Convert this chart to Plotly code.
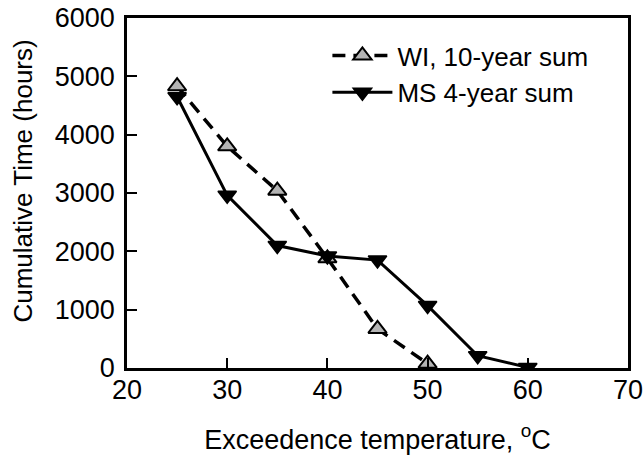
import plotly.graph_objects as go

wi_x = [25, 30, 35, 40, 45, 50]
wi_y = [4830, 3800, 3040, 1880, 670, 75]
ms_x = [25, 30, 35, 40, 45, 50, 55, 60]
ms_y = [4650, 2960, 2100, 1920, 1850, 1070, 210, 10]

x_ticks = [20, 30, 40, 50, 60, 70]
y_ticks = [0, 1000, 2000, 3000, 4000, 5000, 6000]

font_family = "Liberation Sans, Arial, sans-serif"

fig = go.Figure()
fig.add_trace(go.Scatter(
    x=wi_x, y=wi_y, name="WI, 10-year sum", mode="lines+markers",
    line=dict(color="black", width=3.5, dash="13px,8px"),
    marker=dict(symbol="triangle-up", size=16, color="#b4b4b4",
                line=dict(color="black", width=2)),
))
fig.add_trace(go.Scatter(
    x=ms_x, y=ms_y, name="MS 4-year sum", mode="lines+markers",
    line=dict(color="black", width=3),
    marker=dict(symbol="triangle-down", size=16, color="black",
                line=dict(color="black", width=1.5)),
))

fig.update_layout(
    width=643, height=463,
    margin=dict(l=127, r=15, t=18, b=95),
    paper_bgcolor="white", plot_bgcolor="white",
    font=dict(family=font_family, size=26, color="black"),
    showlegend=True,
    legend=dict(x=0.40, y=0.96, xanchor="left", yanchor="top",
                bgcolor="rgba(0,0,0,0)", font=dict(size=26),
                tracegroupgap=0, itemwidth=60),
    xaxis=dict(
        range=[20, 70], tickvals=x_ticks, ticktext=[str(v) for v in x_ticks],
        ticks="inside", ticklen=10, tickwidth=2, tickcolor="black",
        showline=True, linecolor="black", linewidth=2.5, mirror=True,
        showgrid=False, zeroline=False, automargin=False,
        tickfont=dict(size=27), ticklabeloverflow="allow",
        ticklabelstandoff=-4,
        title=dict(text="Exceedence temperature, <sup>o</sup>C", standoff=26,
                   font=dict(size=27)),
    ),
    yaxis=dict(
        range=[0, 6000], tickvals=y_ticks, ticktext=[str(v) for v in y_ticks],
        ticks="inside", ticklen=10, tickwidth=2, tickcolor="black",
        showline=True, linecolor="black", linewidth=2.5, mirror=True,
        showgrid=False, zeroline=False, automargin=False,
        tickfont=dict(size=27), ticklabelstandoff=4, ticklabeloverflow="allow",
    ),
    annotations=[dict(
        text="Cumulative Time (hours)", xref="paper", yref="paper",
        x=-0.208, y=0.535, xanchor="center", yanchor="middle",
        textangle=-90, showarrow=False, font=dict(size=26),
    )],
)

fig.write_html("out.html")
